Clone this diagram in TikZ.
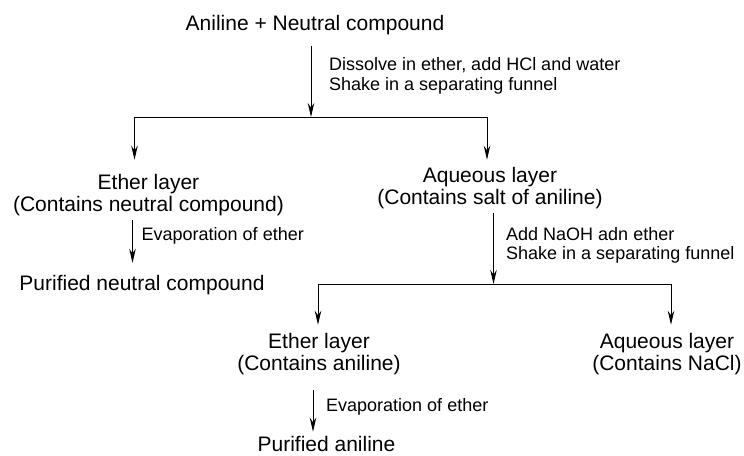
\documentclass[tikz,border=0pt]{standalone}
\usepackage{fontspec}
\setmainfont{Liberation Sans}
\usetikzlibrary{arrows.meta,positioning}

\tikzset{
  chem/.style={font=\fontsize{21}{22}\selectfont, align=center, inner sep=0pt},
  step note/.style={font=\fontsize{18}{19.5}\selectfont, align=left, anchor=west, inner sep=0pt},
  flow/.style={-{Stealth[length=14pt,width=6.5pt]}, line width=1pt},
  bar/.style={line width=1pt},
}

\begin{document}
\begin{tikzpicture}[x=1pt,y=-1pt]
    \useasboundingbox (0,0) rectangle (744,455);

    % substances
    \node[chem] (mix) at (315,24.7) {Aniline + Neutral compound};
    \node[chem] (ether1) at (148.5,194.7) {Ether layer\\(Contains neutral compound)};
    \node[chem] (aq1) at (490,187.7) {Aqueous layer\\(Contains salt of aniline)};
    \node[chem] (pure1) at (142,284.6) {Purified neutral compound};
    \node[chem] (ether2) at (319,353.7) {Ether layer\\(Contains aniline)};
    \node[chem] (aq2) at (667,353.7) {Aqueous layer\\(Contains NaCl)};
    \node[chem] (pure2) at (326.5,443.6) {Purified aniline};

    % branch points
    \coordinate (fork1) at (311,117);
    \coordinate (fork1l) at (134.5,117);
    \coordinate (fork1r) at (487,117);
    \coordinate (fork2) at (493.5,284);
    \coordinate (fork2l) at (318,284);
    \coordinate (fork2r) at (671,284);

    % first separation
    \draw[flow, shorten <=11.6pt] (mix.south -| fork1) -- (fork1);
    \draw[bar] (fork1l) -- (fork1r);
    \draw[flow, shorten >=14pt] (fork1l) -- (fork1l |- ether1.north);
    \draw[flow, shorten >=7pt] (fork1r) -- (fork1r |- aq1.north);
    \node[step note] (n1) at (329,75.7) {Dissolve in ether, add HCl and water\\Shake in a separating funnel};

    % ether layer
    \draw[flow, shorten <=4.6pt, shorten >=11.8pt] ([xshift=-16pt]ether1.south) -- ([xshift=-16pt]ether1.south |- pure1.north);
    \node[step note] (n2) at (141.5,235.5) {Evaporation of ether};

    % aqueous layer, second separation
    \draw[flow, shorten <=4.3pt] (aq1.south -| fork2) -- (fork2);
    \draw[bar] (fork2l) -- (fork2r);
    \draw[flow, shorten >=8pt] (fork2l) -- (fork2l |- ether2.north);
    \draw[flow, shorten >=8pt] (fork2r) -- (fork2r |- aq2.north);
    \node[step note] (n3) at (506,245.2) {Add NaOH adn ether\\Shake in a separating funnel};

    \draw[flow, shorten <=15.6pt, shorten >=4pt] ([xshift=-6pt]ether2.south) -- ([xshift=-6pt]ether2.south |- pure2.north);
    \node[step note] (n4) at (326,407) {Evaporation of ether};
\end{tikzpicture}
\end{document}
